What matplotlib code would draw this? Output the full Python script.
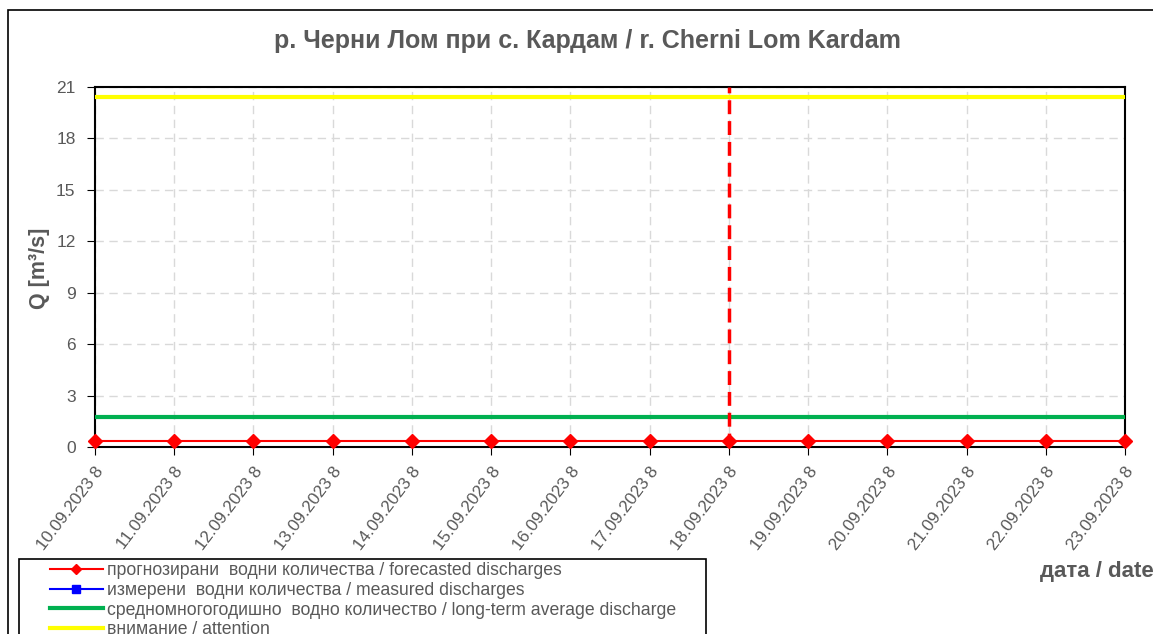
import matplotlib
matplotlib.use("Agg")
import matplotlib.pyplot as plt
from matplotlib.patches import Rectangle
from matplotlib.lines import Line2D

plt.rcParams['font.family'] = ['Liberation Sans', 'DejaVu Sans']

dates = ["10.09.2023 8", "11.09.2023 8", "12.09.2023 8", "13.09.2023 8",
         "14.09.2023 8", "15.09.2023 8", "16.09.2023 8", "17.09.2023 8",
         "18.09.2023 8", "19.09.2023 8", "20.09.2023 8", "21.09.2023 8",
         "22.09.2023 8", "23.09.2023 8"]
forecast = [0.33, 0.33, 0.33, 0.33, 0.33, 0.33, 0.33, 0.33,
            0.33, 0.33, 0.33, 0.33, 0.33, 0.33]
measured = []
average_q = 1.75
attention_q = 20.4
today_index = 8
yticks = [0, 3, 6, 9, 12, 15, 18, 21]

title = "р. Черни Лом при с. Кардам / r. Cherni Lom Kardam"
legend_labels = ["прогнозирани  водни количества / forecasted discharges",
                 "измерени  водни количества / measured discharges",
                 "средномногогодишно  водно количество / long-term average discharge",
                 "внимание / attention"]

W, H = 1153, 634
fig = plt.figure(figsize=(W / 100, H / 100), dpi=100)
gray = "#595959"

# outer chart border
fig.patches.append(Rectangle((8 / W, -0.1), 1.2, 1 - 10 / H + 0.1,
                             transform=fig.transFigure, fill=False,
                             edgecolor="black", linewidth=1.2, zorder=0))
# legend frame
fig.patches.append(Rectangle((19 / W, -0.1), (706 - 19) / W,
                             1 - 559 / H + 0.1,
                             transform=fig.transFigure, fill=False,
                             edgecolor="black", linewidth=1.2, zorder=0))

ax = fig.add_axes([95 / W, 1 - 447 / H, (1125 - 95) / W, (447 - 87) / H])
x = list(range(len(dates)))

ax.set_xlim(0, len(dates) - 1)
ax.set_ylim(0, 21)
ax.set_yticks(yticks)
ax.set_xticks(x)
ax.set_xticklabels(dates, rotation=53, ha="right", va="top",
                   rotation_mode="anchor", fontsize=12.3, color=gray)
ax.tick_params(axis="y", labelsize=12.5, labelcolor=gray, length=6,
               direction="out", pad=8)
ax.tick_params(axis="x", length=6, direction="out", pad=6)

ax.grid(True, color="#d9d9d9", linestyle=(0, (6, 4)), linewidth=1)
for s in ax.spines.values():
    s.set_color("black")
    s.set_linewidth(1.5)

ax.axhline(attention_q, color="#ffff00", linewidth=3, zorder=3)
ax.axhline(average_q, color="#00b050", linewidth=3, zorder=3)
ax.axvline(today_index, color="#ff0000", linewidth=2.5,
           linestyle=(0, (4, 2)), zorder=4)
ax.plot(x, forecast, color="#ff0000", linewidth=1.5, marker="D",
        markersize=7, zorder=5, clip_on=False)
if measured:
    ax.plot(range(len(measured)), measured, color="#0000ff", marker="s")

fig.text(587 / W, 1 - 41 / H, title, fontsize=18, fontweight="bold",
         color=gray, ha="center", va="center")
fig.text(40 / W, 1 - 268 / H, "Q [m³/s]", fontsize=15.5, fontweight="bold",
         color=gray, ha="center", va="center", rotation=90)
fig.text(1040 / W, 1 - 572 / H, "дата / date", fontsize=16,
         fontweight="bold", color=gray, ha="left", va="center")

handles = [
    Line2D([], [], color="#ff0000", linewidth=1.5, marker="D", markersize=5),
    Line2D([], [], color="#0000ff", linewidth=1.5, marker="s", markersize=6),
    Line2D([], [], color="#00b050", linewidth=3),
    Line2D([], [], color="#ffff00", linewidth=3),
]
leg = fig.legend(handles, legend_labels, loc="upper left",
                 bbox_to_anchor=(50 / W, 1 - 562 / H),
                 bbox_transform=fig.transFigure, fontsize=12.7,
                 frameon=False,
                 handlelength=3.0, handletextpad=0.25, labelspacing=0.16,
                 borderpad=0, borderaxespad=0, labelcolor=gray)

fig.savefig("out.png", dpi=100)
